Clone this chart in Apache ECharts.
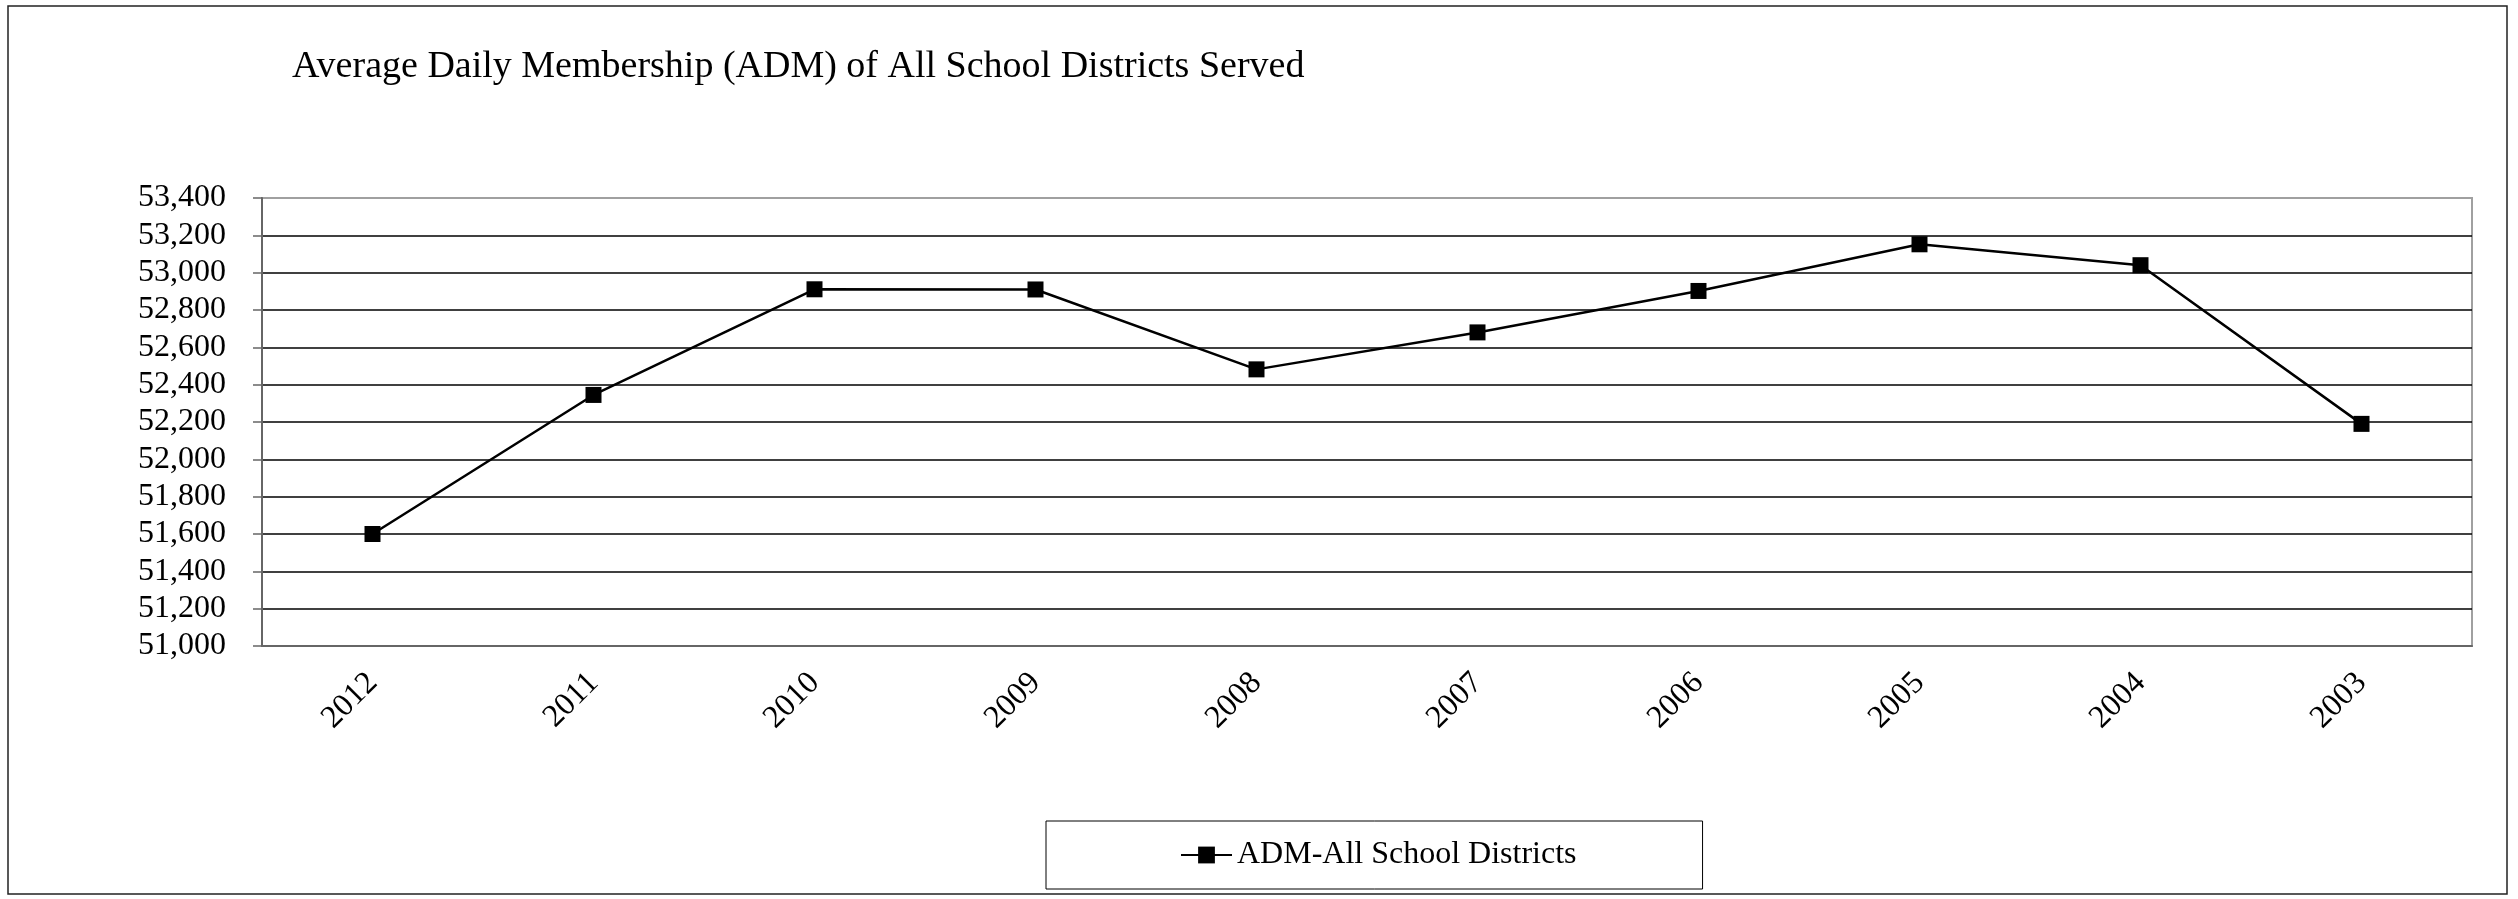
<!DOCTYPE html>
<html>
<head>
<meta charset="utf-8">
<script src="https://cdn.jsdelivr.net/npm/echarts@6/dist/echarts.min.js"></script>
<style>
  html, body { margin: 0; padding: 0; background: #fff; }
  #main { width: 2518px; height: 899px; }
</style>
</head>
<body>
<div id="main"></div>
<script>
const years = ['2012', '2011', '2010', '2009', '2008', '2007', '2006', '2005', '2004', '2003'];
const admValues = [51600, 52345, 52911, 52910, 52482, 52680, 52902, 53152, 53040, 52190];
const yMin = 51000;
const yMax = 53400;
const yStep = 200;

const serif = '"Liberation Serif", "Times New Roman", serif';

// 13 split lines: bottom and top ones are part of the gray plot border
const gridColors = ['#808080'];
for (let i = 0; i < 11; i++) gridColors.push('#000');
gridColors.push('#a0a0a0');

const myChart = echarts.init(document.getElementById('main'));
myChart.setOption({
    animation: false,
    backgroundColor: '#fff',
    title: {
        text: 'Average Daily Membership (ADM) of All School Districts Served',
        left: 292,
        top: 48,
        padding: 0,
        textStyle: {fontFamily: serif, fontSize: 38, fontWeight: 'normal', color: '#000'}
    },
    grid: {
        left: 262, right: 46, top: 198, bottom: 253,
        show: true,
        borderColor: '#a0a0a0',
        borderWidth: 2
    },
    legend: {
        data: ['ADM-All School Districts'],
        left: 1046,
        top: 821,
        padding: [18, 126, 18, 134],
        itemWidth: 51,
        itemHeight: 21,
        itemGap: 5,
        backgroundColor: '#fff',
        borderColor: '#000',
        borderWidth: 1,
        textStyle: {fontFamily: serif, fontSize: 32, color: '#000'}
    },
    xAxis: {
        type: 'category',
        data: years,
        boundaryGap: true,
        axisLine: {lineStyle: {color: '#666', width: 2}},
        axisTick: {length: 9, lineStyle: {color: '#666', width: 1.5}},
        axisLabel: {
            interval: 0,
            rotate: 45,
            margin: 32,
            fontFamily: serif,
            fontSize: 32,
            color: '#000'
        },
        splitLine: {show: false}
    },
    yAxis: {
        type: 'value',
        min: yMin,
        max: yMax,
        interval: yStep,
        axisLine: {show: true, lineStyle: {color: '#666', width: 2}},
        axisTick: {show: true, length: 9, lineStyle: {color: '#666', width: 1.5}},
        axisLabel: {
            margin: 36,
            fontFamily: serif,
            fontSize: 32,
            color: '#000',
            formatter: v => v.toLocaleString('en-US')
        },
        splitLine: {show: true, lineStyle: {color: gridColors, width: 1.5}}
    },
    series: [{
        name: 'ADM-All School Districts',
        type: 'line',
        data: admValues,
        symbol: 'rect',
        symbolSize: 16,
        itemStyle: {color: '#000'},
        lineStyle: {color: '#000', width: 2.5}
    }],
    graphic: [{
        type: 'rect',
        silent: true,
        z: -1,
        shape: {x: 8, y: 6, width: 2499, height: 888},
        style: {fill: 'none', stroke: '#222', lineWidth: 1.5}
    }]
});
</script>
</body>
</html>
